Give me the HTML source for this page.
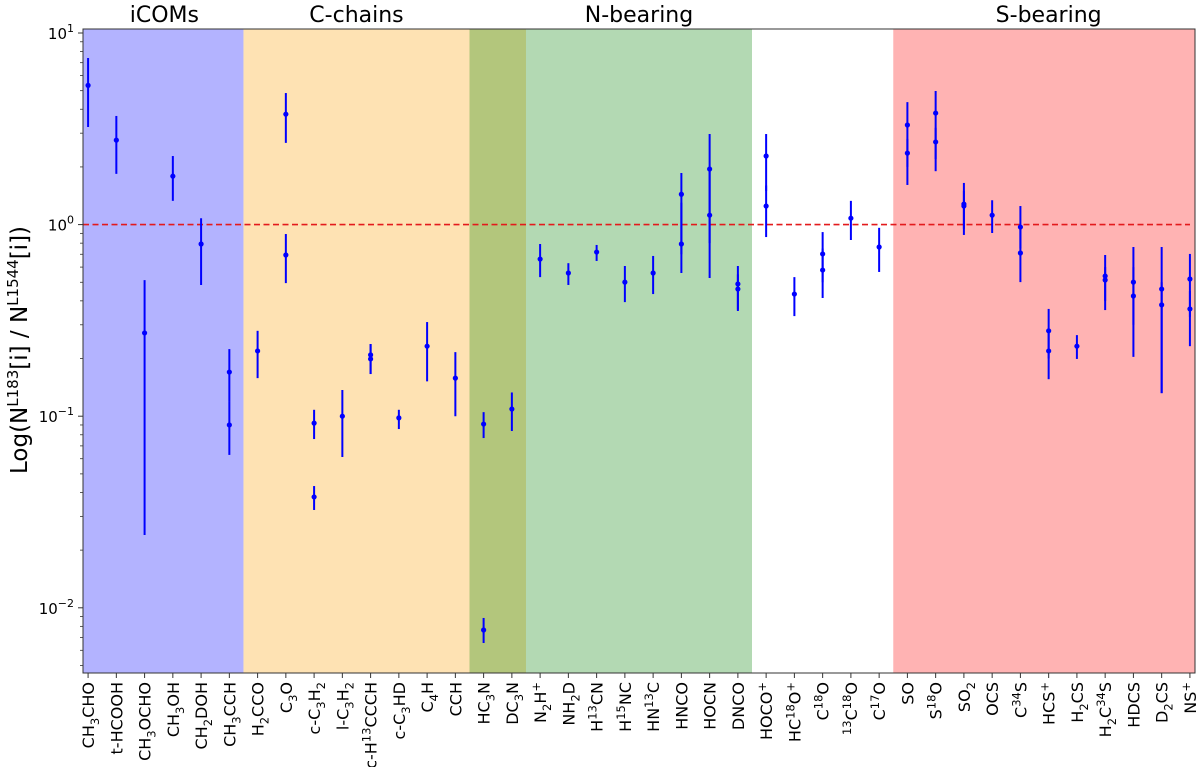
<!DOCTYPE html>
<html><head><meta charset="utf-8"><style>
html,body{margin:0;padding:0;background:#fff;}
svg{display:block;font-family:"DejaVu Sans","Liberation Sans",sans-serif;}
</style></head><body>
<svg id="chart" width="1200" height="767" viewBox="0 0 1200 767" xmlns="http://www.w3.org/2000/svg">
<g id="bg"></g>
<g id="grid"></g>
<g id="marks"></g>
<g id="axes"></g>
</svg>
<script>
const categories = ["CH_3CHO","t-HCOOH","CH_3OCHO","CH_3OH","CH_2DOH","CH_3CCH","H_2CCO","C_3O","c-C_3H_2","l-C_3H_2","c-H^13CCCH","c-C_3HD","C_4H","CCH","HC_3N","DC_3N","N_2H^+","NH_2D","H^13CN","H^15NC","HN^13C","HNCO","HOCN","DNCO","HOCO^+","HC^18O^+","C^18O","^13C^18O","C^17O","SO","S^18O","SO_2","OCS","C^34S","HCS^+","H_2CS","H_2C^34S","HDCS","D_2CS","NS^+"];
const pointCat = [0,1,2,3,4,5,5,6,7,7,8,8,9,10,10,11,12,13,14,14,15,16,17,18,19,20,21,21,22,22,23,23,24,24,25,26,26,27,28,29,29,30,30,31,31,32,33,33,34,34,35,36,36,37,37,38,38,39,39];
const pointVal = [5.33,2.76,0.272,1.79,0.792,0.170,0.090,0.219,3.77,0.694,0.092,0.0379,0.100,0.209,0.199,0.098,0.232,0.158,0.091,0.00766,0.109,0.661,0.559,0.719,0.501,0.559,1.44,0.792,1.95,1.12,0.490,0.461,2.28,1.25,0.434,0.703,0.579,1.08,0.764,3.31,2.36,3.82,2.70,1.28,1.25,1.12,0.971,0.711,0.279,0.219,0.232,0.539,0.514,0.501,0.424,0.461,0.381,0.520,0.363];
const errLow = [3.23,1.84,0.024,1.33,0.484,0.12,0.0628,0.158,2.67,0.495,0.076,0.0324,0.0612,0.166,0.166,0.0857,0.152,0.100,0.0769,0.00655,0.0837,0.532,0.484,0.646,0.394,0.434,0.7,0.559,0.8,0.526,0.36,0.354,1.5,0.861,0.333,0.5,0.414,0.831,0.566,2.0,1.61,2.2,1.90,0.95,0.883,0.904,0.75,0.501,0.2,0.156,0.199,0.40,0.358,0.3,0.204,0.132,0.132,0.33,0.232];
const errHigh = [7.41,3.69,0.513,2.28,1.08,0.224,0.12,0.279,4.86,0.893,0.108,0.0432,0.137,0.238,0.238,0.108,0.310,0.216,0.105,0.00885,0.133,0.792,0.629,0.783,0.608,0.686,1.86,1.3,2.97,2.0,0.608,0.55,2.97,1.6,0.532,0.914,0.75,1.33,0.962,4.36,2.8,4.98,3.2,1.65,1.5,1.34,1.25,0.95,0.363,0.28,0.265,0.694,0.6,0.764,0.6,0.764,0.5,0.703,0.45];
const regionStart = [-0.5,5.5,13.5,15.5,23.5,28.5];
const regionEnd = [5.5,13.5,15.5,23.5,28.5,39.5];
const regionColor = ["#b3b3ff","#fee2b3","#b3c67c","#b3d9b3","#ffffff","#ffb3b3"];
const groupTitles = ["iCOMs","C-chains","N-bearing","S-bearing"];
const groupCenters = [2.7,9.5,19.5,34];
const yTickExps = [-2,-1,0,1];

const NS="http://www.w3.org/2000/svg";
const L=83,R=1195,T=29,B=673;
const XMIN=-0.18,XMAX=39.18;
const X=i=>L+(i-XMIN)/(XMAX-XMIN)*(R-L);
const Y=v=>224.6-Math.log10(v)*191.6;
function el(tag,attrs,parent){const e=document.createElementNS(NS,tag);for(const k in attrs)e.setAttribute(k,attrs[k]);parent.appendChild(e);return e;}
const bg=document.getElementById('bg'),marks=document.getElementById('marks'),axes=document.getElementById('axes'),grid=document.getElementById('grid');

for(let r=0;r<regionStart.length;r++){
  const x0=Math.max(L,X(regionStart[r])),x1=Math.min(R,X(regionEnd[r]));
  const rc=el('rect',{x:x0,y:T,width:x1-x0,height:B-T,fill:regionColor[r]},bg);
  
  
}
for(let g=0;g<groupTitles.length;g++){
  const t=el('text',{x:X(groupCenters[g]),y:22,'text-anchor':'middle','font-size':22,fill:'#000'},axes);
  t.textContent=groupTitles[g];
  
  
}
const ref=el('line',{x1:L,x2:1190,y1:Y(1),y2:Y(1),stroke:'#e31a1c','stroke-width':1.6,'stroke-dasharray':'6,3.5'},grid);



for(let p=0;p<pointCat.length;p++){
  const x=X(pointCat[p]);
  const eb=el('line',{x1:x,x2:x,y1:Y(errLow[p]),y2:Y(errHigh[p]),stroke:'#0000ff','stroke-width':2},marks);
  
  
  const c=el('circle',{cx:x,cy:Y(pointVal[p]),r:2.6,fill:'#0000ff'},marks);
  
  
}

const frame=el('rect',{x:L,y:T,width:R-L,height:B-T,fill:'none',stroke:'#333','stroke-width':1},axes);



for(const e of yTickExps){
  const y=Y(Math.pow(10,e));
  el('line',{x1:L-5,x2:L,y1:y,y2:y,stroke:'#333','stroke-width':1},axes);
  const t=el('text',{x:L-9,y:y+6,'text-anchor':'end','font-size':15,fill:'#000'},axes);
  
  
  const a=document.createElementNS(NS,'tspan');a.textContent='10';t.appendChild(a);
  const s=document.createElementNS(NS,'tspan');s.setAttribute('dy','-7');s.setAttribute('font-size','11');s.textContent=(e<0?'\u2212'+(-e):String(e));t.appendChild(s);
  for(let m=2;m<=9;m++){
    const v=m*Math.pow(10,e), ym=Y(v);
    if(ym<T||ym>B)continue;
    el('line',{x1:L-3,x2:L,y1:ym,y2:ym,stroke:'#333','stroke-width':0.8},axes);
  }
}
for(let m=4;m<=9;m++){const ym=Y(m*0.001);if(ym<B)el('line',{x1:L-3,x2:L,y1:ym,y2:ym,stroke:'#333','stroke-width':0.8},axes);}

function addRich(t,s){
  let mode='n',buf='';const parts=[];
  for(let i=0;i<s.length;i++){
    const ch=s[i];
    if(ch==='_'||ch==='^'){ if(buf)parts.push([mode,buf]); buf=''; mode=ch==='_'?'sub':'sup';
      let j=i+1,tok='';while(j<s.length&&/[0-9+]/.test(s[j])){tok+=s[j];j++;}
      parts.push([mode,tok]);mode='n';i=j-1;continue;}
    buf+=ch;
  }
  if(buf)parts.push(['n',buf]);
  let shift=0;
  for(const [md,tx] of parts){
    const sp=document.createElementNS(NS,'tspan');
    let target=md==='sub'?5:(md==='sup'?-6:0);
    sp.setAttribute('dy',target-shift);shift=target;
    if(md!=='n')sp.setAttribute('font-size','11.5');
    sp.textContent=tx;t.appendChild(sp);
  }
}
for(let i=0;i<categories.length;i++){
  const x=X(i);
  el('line',{x1:x,x2:x,y1:B,y2:B+5,stroke:'#333','stroke-width':1},axes);
  const t=el('text',{transform:`translate(${x+6},${B+9}) rotate(-90)`,'text-anchor':'end','font-size':16,fill:'#000'},axes);
  
  
  addRich(t,categories[i]);
}
const yl=el('text',{transform:'translate(27,350) rotate(-90)','text-anchor':'middle','font-size':23,fill:'#000'},axes);


yl.innerHTML='<tspan>Log(N</tspan><tspan dy="-9" font-size="15">L183</tspan><tspan dy="9">[i] / N</tspan><tspan dy="-9" font-size="15">L1544</tspan><tspan dy="9">[i])</tspan>';
</script>
</body></html>
